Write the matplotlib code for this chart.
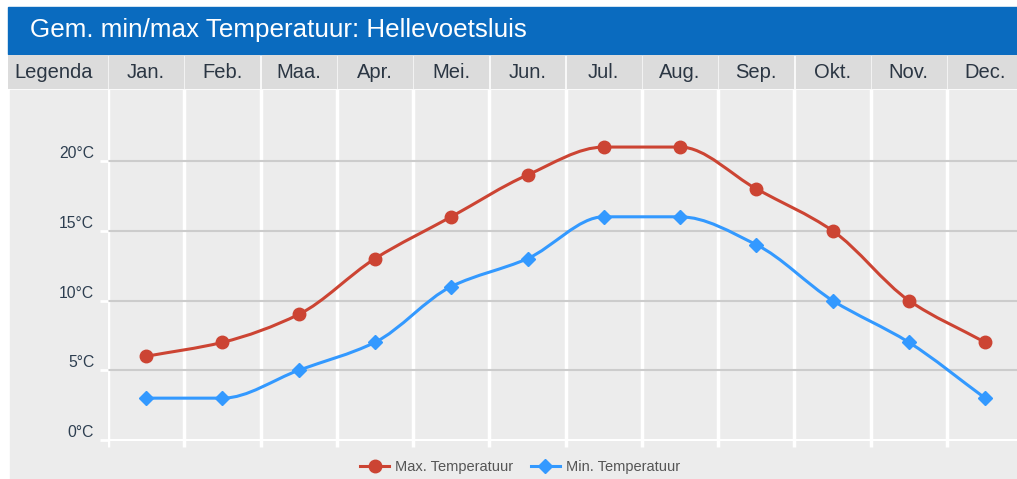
import numpy as np
import matplotlib
matplotlib.use("Agg")
import matplotlib.pyplot as plt
import matplotlib.transforms as mtransforms
from matplotlib.path import Path
from matplotlib.patches import PathPatch, Rectangle
from matplotlib.lines import Line2D

plt.rcParams["font.family"] = ["Liberation Sans", "DejaVu Sans"]

TITLE = "Gem. min/max Temperatuur: Hellevoetsluis"
MONTHS = ["Jan.", "Feb.", "Maa.", "Apr.", "Mei.", "Jun.",
          "Jul.", "Aug.", "Sep.", "Okt.", "Nov.", "Dec."]
MAX_TEMP = [6, 7, 9, 13, 16, 19, 21, 21, 18, 15, 10, 7]
MIN_TEMP = [3, 3, 5, 7, 11, 13, 16, 16, 14, 10, 7, 3]
Y_TICKS = [0, 5, 10, 15, 20]

RED = "#cc4433"
BLUE = "#3399ff"
BG = "#ececec"
HEAD = "#dcdcdc"
W, H = 1017, 479


def fx(px):
    return px / W


def fy(py):
    return 1 - py / H


def smooth_path(x, y):
    # monotone cubic (Fritsch-Carlson) as bezier segments
    x = np.asarray(x, float)
    y = np.asarray(y, float)
    h = np.diff(x)
    d = np.diff(y) / h
    m = np.zeros_like(y)
    m[0], m[-1] = d[0], d[-1]
    for i in range(1, len(y) - 1):
        if d[i - 1] * d[i] > 0:
            m[i] = 2 / (1 / d[i - 1] + 1 / d[i])
    verts = [(x[0], y[0])]
    codes = [Path.MOVETO]
    for i in range(len(x) - 1):
        verts += [(x[i] + h[i] / 3, y[i] + m[i] * h[i] / 3),
                  (x[i + 1] - h[i] / 3, y[i + 1] - m[i + 1] * h[i] / 3),
                  (x[i + 1], y[i + 1])]
        codes += [Path.CURVE4] * 3
    return Path(verts, codes)


fig = plt.figure(figsize=(W / 100, H / 100), dpi=100)
fig.patch.set_facecolor("white")

# title bar
fig.patches.append(Rectangle((fx(8), fy(54)), fx(1017) - fx(8), fy(7) - fy(54),
                             transform=fig.transFigure, color="#0a6bbf", zorder=-5))
fig.text(fx(30), fy(30), TITLE, color="white", fontsize=18.7, va="center", ha="left")

# grey body
fig.patches.append(Rectangle((fx(10), 0), fx(1017) - fx(10), fy(90),
                             transform=fig.transFigure, color=BG, zorder=-5))

col_w = (947 - 108) / 11
x_left = -0.5 - (108 - 8) / col_w
x_right = 11.5 - (108 + 12 * col_w - 1017) / col_w

# header row
hax = fig.add_axes([fx(8), fy(89), fx(1017) - fx(8), fy(55) - fy(89)])
hax.set_xlim(x_left, x_right)
hax.set_ylim(0, 1)
hax.axis("off")
gap = 1.2 / col_w
hax.add_patch(Rectangle((x_left, 0), -0.5 - x_left - gap, 1, color=HEAD))
hax.text(-1.21, 0.5, "Legenda", ha="center", va="center", fontsize=14.5, color="#2b3643")
for k, name in enumerate(MONTHS):
    hax.add_patch(Rectangle((k - 0.5 + gap, 0), 1 - 2 * gap, 1, color=HEAD))
    hax.text(k, 0.5, name, ha="center", va="center", fontsize=14.5, color="#2b3643")

# main chart
ax = fig.add_axes([fx(108), 0, fx(1017) - fx(108), fy(90)])
ax.set_facecolor("none")
ax.set_xlim(-0.5, x_right)
ax.set_ylim(-(479 - 440) / 13.95, (440 - 90) / 13.95)
for s in ax.spines.values():
    s.set_visible(False)

for k in range(len(MONTHS)):
    ax.vlines(k - 0.5, -0.5, 30, color="white", lw=2.5, zorder=1)
for t in Y_TICKS:
    ax.axhline(t, color="white" if t == 0 else "#cccccc", lw=1.5, zorder=1)

ax.set_xticks([])
ax.set_yticks(Y_TICKS)
ax.set_yticklabels([f"{t}°C" for t in Y_TICKS])
ax.tick_params(axis="y", length=6, width=2, color="white", pad=4,
               labelsize=11.3, labelcolor="#2d3e50")
# labels sit a bit above their grid line, like the original
shift = mtransforms.ScaledTranslation(0, 9 / 100, fig.dpi_scale_trans)
for lbl in ax.get_yticklabels():
    lbl.set_transform(lbl.get_transform() + shift)

xs = np.arange(len(MONTHS))
for vals, col, mk, ms in [(MAX_TEMP, RED, "o", 9), (MIN_TEMP, BLUE, "D", 7)]:
    ax.add_patch(PathPatch(smooth_path(xs, vals), fill=False, edgecolor=col,
                           lw=2.2, zorder=3))
    ax.plot(xs, vals, ls="none", marker=mk, ms=ms, color=col, zorder=4)

handles = [
    Line2D([], [], color=RED, lw=2.2, marker="o", ms=9),
    Line2D([], [], color=BLUE, lw=2.2, marker="D", ms=7),
]
fig.legend(handles, ["Max. Temperatuur", "Min. Temperatuur"], loc="center",
           bbox_to_anchor=(fx(520), fy(467)), ncol=2, frameon=False,
           fontsize=10.5, labelcolor="#555555", handlelength=2.0,
           handletextpad=0.4, columnspacing=1.2)

fig.savefig("out.png", dpi=100, facecolor="white")
